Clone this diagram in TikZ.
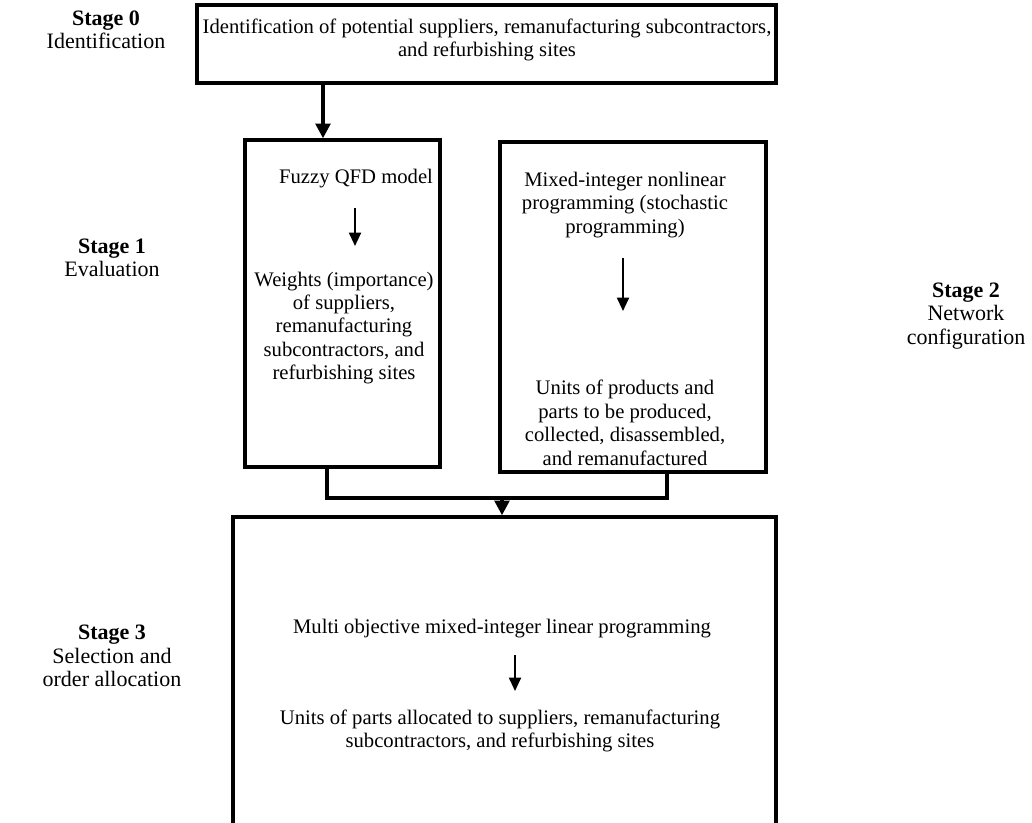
\documentclass[tikz,border=0pt]{standalone}
\usepackage{fontspec}
\setmainfont{Liberation Serif}
\usetikzlibrary{arrows.meta}

\begin{document}
\begin{tikzpicture}[x=0.75pt,y=-0.75pt,
  stagebox/.style={draw,line width=2.6pt,inner sep=0pt},
  boxtext/.style={align=center,inner sep=0pt,font=\fontsize{15.5}{17.6}\selectfont},
  stagelabel/.style={align=center,inner sep=0pt,font=\fontsize{16.5}{17.6}\selectfont},
  flow/.style={line width=2.6pt,-{Triangle[length=11pt,width=11pt]}},
  inflow/.style={line width=1.4pt,-{Triangle[length=10pt,width=9pt]}},
  link/.style={line width=2.6pt}]
\useasboundingbox (0,0) rectangle (1032,823);
\clip (0,0) rectangle (1032,823);
% stage labels
\path (106,30) node[stagelabel] (s0) {\textbf{Stage 0}\\Identification}
      (112,258) node[stagelabel] (s1) {\textbf{Stage 1}\\Evaluation}
      (966,316) node[stagelabel] (s2) {\textbf{Stage 2}\\Network\\configuration}
      (112,656) node[stagelabel] (s3) {\textbf{Stage 3}\\Selection and\\order allocation};
% frames
\path (486.5,44) node[stagebox,minimum width=579*0.75pt,minimum height=78*0.75pt] (idbox) {}
      (342.5,303.5) node[stagebox,minimum width=195*0.75pt,minimum height=327*0.75pt] (evalbox) {}
      (633,307) node[stagebox,minimum width=266*0.75pt,minimum height=330*0.75pt] (netbox) {}
      (504.5,717) node[stagebox,minimum width=543*0.75pt,minimum height=400*0.75pt] (selbox) {};
% texts
\path (487,40) node[boxtext] (idtext) {Identification of potential suppliers, remanufacturing subcontractors,\\and refurbishing sites}
      (356,179) node[boxtext] (fuzzy) {Fuzzy QFD model}
      (344,328) node[boxtext] (weights) {Weights (importance)\\of suppliers,\\remanufacturing\\subcontractors, and\\refurbishing sites}
      (625,205) node[boxtext] (minlp) {Mixed-integer nonlinear\\programming (stochastic\\programming)}
      (625,423) node[boxtext] (units) {Units of products and\\parts to be produced,\\collected, disassembled,\\and remanufactured}
      (502,629) node[boxtext] (milp) {Multi objective mixed-integer linear programming}
      (500,731) node[boxtext] (alloc) {Units of parts allocated to suppliers, remanufacturing\\subcontractors, and refurbishing sites};
% connectors
\coordinate (ta) at (323,0);
\coordinate (lj) at (327,498);
\coordinate (rj) at (667,498);
\coordinate (mj) at (502,498);
\draw[flow] (idbox.south -| ta) -- (evalbox.north -| ta);
\draw[link] (evalbox.south -| lj) -- (lj) -- (rj) -- (netbox.south -| rj);
\draw[flow] (mj) -- (selbox.north -| mj);
\draw[inflow] (355,208) -- (355,246);
\draw[inflow] (623,258) -- (623,311);
\draw[inflow] (515,655) -- (515,691);
\end{tikzpicture}
\end{document}
